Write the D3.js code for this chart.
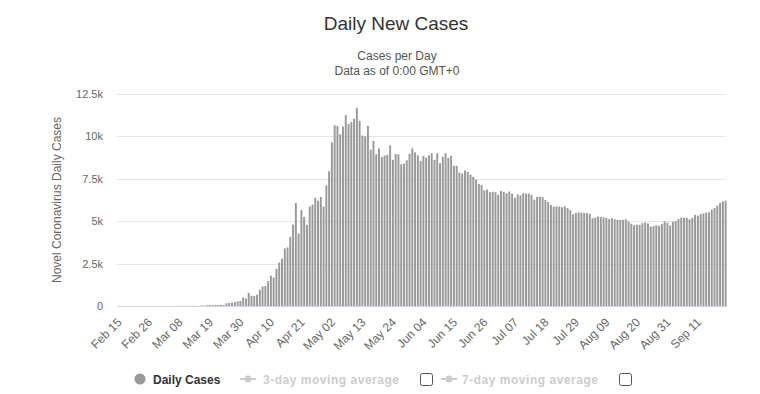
<!DOCTYPE html>
<html lang="en">
<head>
    <meta charset="UTF-8">
    <title>Daily New Cases</title>
    <style>
        body { margin: 0; background: #fff; }
        text { font-family: "Liberation Sans", Arial, sans-serif; }
    </style>
</head>
<body>
<div id="chart"></div>

<script src="https://d3js.org/d3.v7.min.js"></script>

<script>
    // first category and how often a tick label is shown
    var startDate = new Date(2020, 1, 15);
    var tickEvery = 11;

    // daily new cases, Feb 15 .. Sep 21
    var febCases = [0, 0, 0, 0, 0, 0, 0, 0, 0, 0, 0, 0, 0, 0, 0];
    var marCases = [0, 1, 0, 0, 1, 0, 6, 0, 3, 3, 3, 8, 17, 14, 4, 30, 21, 33, 52, 54, 53, 61, 71, 57,
        163, 182, 196, 228, 270, 302, 501];
    var aprCases = [440, 771, 601, 582, 658, 954, 1154, 1175, 1459, 1786, 1667, 2186, 2558, 2774, 3388,
        3448, 4070, 4785, 6060, 4268, 5642, 5236, 4774, 5849, 5966, 6361, 6198, 6411, 5841, 7099];
    var mayCases = [7933, 9623, 10633, 10581, 10102, 10559, 11231, 10699, 10817, 11012, 11656, 10899,
        10028, 9974, 10598, 9200, 9709, 8926, 9263, 8764, 8849, 8894, 9434, 8599, 8946, 8915, 8338,
        8371, 8572, 8952, 9268];
    var junCases = [9035, 8863, 8536, 8831, 8726, 8855, 8984, 8595, 8985, 8404, 8779, 8987, 8706, 8835,
        8246, 8248, 7843, 7790, 7972, 7889, 7728, 7600, 7425, 7176, 7113, 6800, 6852, 6693, 6719, 6693];
    var julCases = [6556, 6760, 6718, 6632, 6736, 6611, 6368, 6562, 6509, 6635, 6611, 6615, 6537, 6248,
        6422, 6428, 6406, 6234, 6109, 5940, 5842, 5862, 5848, 5811, 5871, 5765, 5635, 5395, 5475, 5509, 5482];
    var augCases = [5470, 5462, 5427, 5159, 5204, 5267, 5241, 5212, 5189, 5118, 5159, 5102, 5057, 5065,
        5061, 5100, 4969, 4839, 4748, 4790, 4767, 4870, 4921, 4852, 4676, 4696, 4744, 4711, 4829, 4980, 4897];
    var sepCases = [4729, 4952, 4995, 5110, 5205, 5195, 5185, 5099, 5185, 5363, 5310, 5406, 5449, 5488,
        5509, 5670, 5762, 5905, 6065, 6148, 6196];

    var yTicks = [0, 2500, 5000, 7500, 10000, 12500];
    var yTickLabels = ["0", "2.5k", "5k", "7.5k", "10k", "12.5k"];

    var legendItems = ["Daily Cases", "3-day moving average", "7-day moving average"];

    var cases = [].concat(febCases, marCases, aprCases, mayCases, junCases, julCases, augCases, sepCases);
    var fmt = d3.timeFormat("%b %d");
    var categories = cases.map(function (d, i) { return fmt(d3.timeDay.offset(startDate, i)); });

    var width = 760, height = 394;
    var plot = {left: 117, right: 727, top: 93.5, bottom: 306};

    var svg = d3.select("#chart").append("svg")
        .attr("width", width)
        .attr("height", height);

    // titles
    svg.append("text")
        .attr("x", 396).attr("y", 30)
        .attr("text-anchor", "middle")
        .attr("font-size", 19)
        .attr("fill", "#333")
        .text("Daily New Cases");
    svg.append("text")
        .attr("x", 397).attr("y", 60)
        .attr("text-anchor", "middle")
        .attr("font-size", 12)
        .attr("fill", "#555")
        .text("Cases per Day");
    svg.append("text")
        .attr("x", 397).attr("y", 75)
        .attr("text-anchor", "middle")
        .attr("font-size", 12)
        .attr("fill", "#555")
        .text("Data as of 0:00 GMT+0");

    var x = d3.scaleBand()
        .domain(categories)
        .range([plot.left, plot.right])
        .paddingInner(0.3)
        .paddingOuter(0.15);
    var y = d3.scaleLinear().domain([0, 12500]).range([plot.bottom, plot.top]);

    // gridlines
    svg.append("g")
        .selectAll("line")
        .data(yTicks.slice(1))
        .enter().append("line")
        .attr("x1", plot.left).attr("x2", plot.right)
        .attr("y1", function (d) { return Math.round(y(d)) + 0.5; })
        .attr("y2", function (d) { return Math.round(y(d)) + 0.5; })
        .attr("stroke", "#e6e6e6");

    // y axis labels
    var yAxis = svg.append("g")
        .attr("transform", "translate(" + (plot.left - 14) + ",0)")
        .call(d3.axisLeft(y).tickValues(yTicks).tickSize(0).tickPadding(0)
            .tickFormat(function (d, i) { return yTickLabels[i]; }));
    yAxis.select(".domain").remove();
    yAxis.selectAll("text")
        .attr("font-family", "Liberation Sans, Arial, sans-serif")
        .attr("font-size", 11)
        .attr("fill", "#666");

    svg.append("text")
        .attr("transform", "translate(61,200) rotate(-90)")
        .attr("text-anchor", "middle")
        .attr("font-size", 12)
        .attr("fill", "#666")
        .text("Novel Coronavirus Daily Cases");

    // bars
    svg.append("g")
        .selectAll("rect")
        .data(cases)
        .enter().append("rect")
        .attr("x", function (d, i) { return x(categories[i]); })
        .attr("y", function (d) { return y(d); })
        .attr("width", x.bandwidth())
        .attr("height", function (d) { return plot.bottom - y(d); })
        .attr("fill", "#999");

    // x axis
    var xAxis = svg.append("g")
        .attr("transform", "translate(0," + plot.bottom + ")")
        .call(d3.axisBottom(x)
            .tickValues(categories.filter(function (d, i) { return i % tickEvery === 0; }))
            .tickSize(0).tickPadding(0));
    xAxis.select(".domain")
        .attr("stroke", "#ccd6eb")
        .attr("d", "M" + plot.left + ",0.5H" + plot.right);
    xAxis.selectAll("text")
        .attr("font-family", "Liberation Sans, Arial, sans-serif")
        .attr("font-size", 12)
        .attr("fill", "#666")
        .attr("text-anchor", "end")
        .attr("dy", 0)
        .attr("transform", "translate(4,17) rotate(-45)");

    // legend
    var legend = svg.append("g").attr("transform", "translate(0,379)");
    legend.append("circle").attr("cx", 140).attr("cy", 0).attr("r", 5.5).attr("fill", "#999");
    legend.append("text")
        .attr("x", 153).attr("y", 4.5)
        .attr("font-size", 12).attr("font-weight", "bold").attr("fill", "#333")
        .text(legendItems[0]);

    var hidden = [{sx: 240, tx: 263, box: 420}, {sx: 441, tx: 462, box: 619}];
    hidden.forEach(function (h, i) {
        legend.append("line")
            .attr("x1", h.sx).attr("x2", h.sx + 16)
            .attr("y1", 0).attr("y2", 0)
            .attr("stroke", "#ccc").attr("stroke-width", 2);
        legend.append("circle")
            .attr("cx", h.sx + 8).attr("cy", 0).attr("r", 3.5).attr("fill", "#ccc");
        legend.append("text")
            .attr("x", h.tx).attr("y", 4.5)
            .attr("font-size", 12).attr("font-weight", "bold").attr("fill", "#ccc")
            .attr("textLength", 136).attr("lengthAdjust", "spacing")
            .text(legendItems[i + 1]);
        legend.append("rect")
            .attr("x", h.box + 0.5).attr("y", -5.5)
            .attr("width", 12).attr("height", 12)
            .attr("rx", 2)
            .attr("fill", "#fff").attr("stroke", "#555");
    });
</script>
</body>
</html>
